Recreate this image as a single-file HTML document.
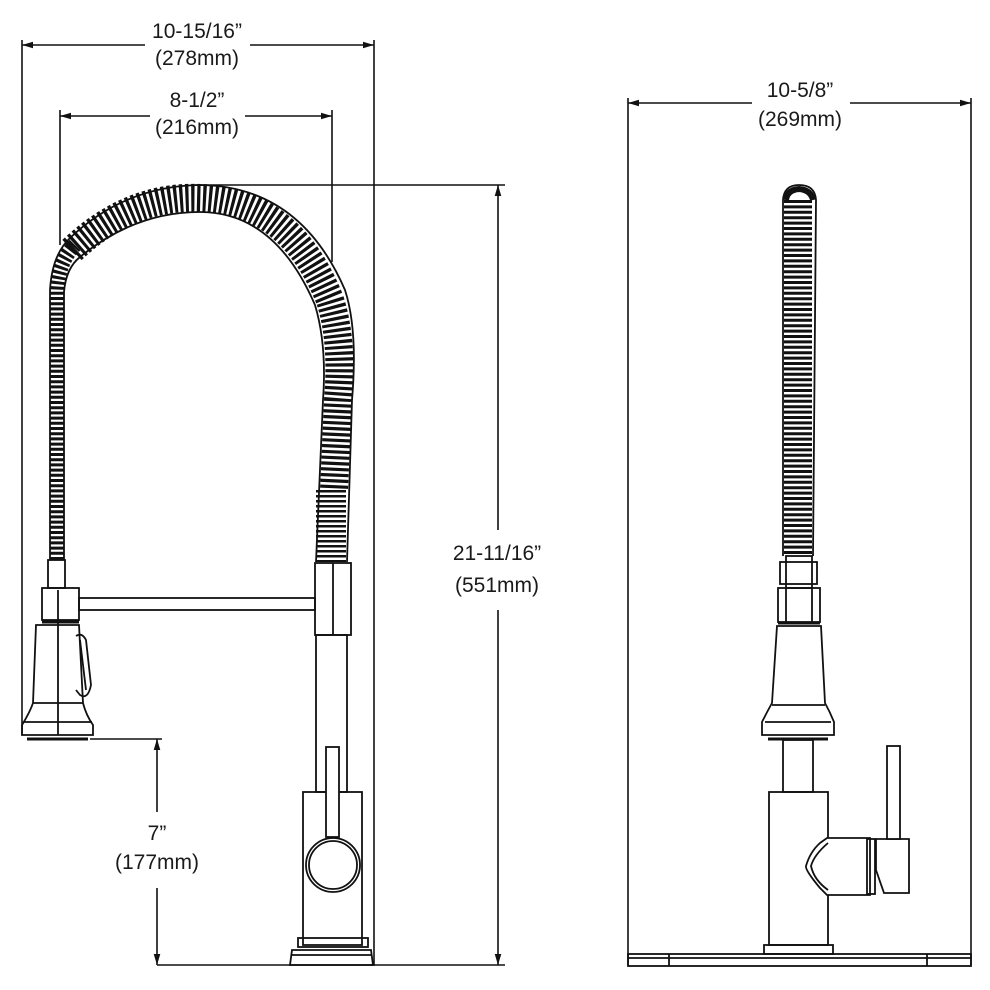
<!DOCTYPE html>
<html><head><style>
html,body{margin:0;padding:0;background:#fff;}
svg{display:block;}
text{font-family:"Liberation Sans",Arial,sans-serif;font-size:21px;fill:#1a1a1a;text-anchor:middle;}
</style></head><body>
<svg width="990" height="990" viewBox="0 0 990 990" xmlns="http://www.w3.org/2000/svg">
<defs>
<marker id="a" viewBox="0 0 10 10" refX="10" refY="5" markerWidth="7" markerHeight="7" orient="auto-start-reverse"><path d="M0,2 L10,5 L0,8 z" fill="#111"/></marker>
</defs>
<g stroke="#111" stroke-width="1.6" fill="none">
<line x1="22" y1="40" x2="22" y2="735"/>
<line x1="374" y1="40" x2="374" y2="965"/>
<line x1="22" y1="45" x2="145" y2="45" marker-start="url(#a)"/>
<line x1="250" y1="45" x2="374" y2="45" marker-end="url(#a)"/>
<line x1="60" y1="110" x2="60" y2="245"/>
<line x1="332" y1="110" x2="332" y2="262"/>
<line x1="60" y1="116" x2="150" y2="116" marker-start="url(#a)"/>
<line x1="245" y1="116" x2="332" y2="116" marker-end="url(#a)"/>
<line x1="195" y1="185" x2="505" y2="185"/>
<line x1="498" y1="185" x2="498" y2="530" marker-start="url(#a)"/>
<line x1="498" y1="610" x2="498" y2="965" marker-end="url(#a)"/>
<line x1="370" y1="965" x2="505" y2="965"/>
<line x1="90" y1="739" x2="162" y2="739"/>
<line x1="157" y1="739" x2="157" y2="812" marker-start="url(#a)"/>
<line x1="157" y1="888" x2="157" y2="965" marker-end="url(#a)"/>
<line x1="157" y1="965" x2="375" y2="965"/>
<line x1="628" y1="98" x2="628" y2="965"/>
<line x1="971" y1="98" x2="971" y2="965"/>
<line x1="628" y1="103" x2="752" y2="103" marker-start="url(#a)"/>
<line x1="850" y1="103" x2="971" y2="103" marker-end="url(#a)"/>
</g>
<g>
<text x="197" y="38">10-15/16”</text><text x="197" y="65">(278mm)</text>
<text x="197" y="107">8-1/2”</text><text x="197" y="134">(216mm)</text>
<text x="497" y="560">21-11/16”</text><text x="497" y="592">(551mm)</text>
<text x="157" y="840">7”</text><text x="157" y="869">(177mm)</text>
<text x="800" y="97">10-5/8”</text><text x="800" y="126">(269mm)</text>
</g>
<g fill="none" stroke="#111">
<path d="M57,560 L57,290 Q58,262 75,245" stroke-width="15" stroke-dasharray="3 2.2"/>
<path d="M72,250 Q130,195 200,198 Q290,200 330,300 Q343,340 338,400 L334,490" stroke-width="28" stroke-dasharray="3.2 2.6"/>
<path d="M331,490 L331,562" stroke-width="30" stroke-dasharray="2.5 2.5"/>
</g>
<g fill="none" stroke="#111" stroke-width="1.8">
<path d="M50,560 L50,290 Q52,255 70,238 Q125,186 200,185 Q300,186 345,290 Q358,330 352,400 L347,562"/>
<path d="M64,560 L64,292 Q66,268 80,257 Q135,212 200,212 Q275,212 315,305 Q327,345 323,400 L316,562"/>
<rect x="48" y="560" width="17" height="28" fill="#fff"/>
<rect x="42" y="588" width="37" height="32"/>
<line x1="42" y1="622" x2="79" y2="622" stroke-width="3"/>
<path d="M36,625 L79,625 L83,703 Q86,715 93,725 L93,735 L22,735 L22,725 Q30,712 33,703 Z"/>
<line x1="33" y1="703" x2="83" y2="703"/>
<line x1="24" y1="722" x2="92" y2="722"/>
<line x1="27" y1="739" x2="88" y2="739" stroke-width="3"/>
<line x1="58" y1="590" x2="58" y2="735"/>
<path d="M76,636 Q82,632 86,640 L91,685 Q88,700 80,695 L76,690"/>
<path d="M80,640 L86,690"/>
<rect x="79" y="598" width="236" height="12"/>
<rect x="315" y="563" width="36" height="72"/>
<line x1="333" y1="563" x2="333" y2="635"/>
<rect x="316" y="635" width="31" height="157"/>
<rect x="303" y="792" width="59" height="153"/>
<circle cx="333" cy="865" r="27" fill="#fff"/>
<circle cx="333" cy="865" r="24"/>
<rect x="326" y="747" width="13" height="90" fill="#fff"/>
<rect x="298" y="938" width="70" height="9"/>
<path d="M290,965 L292,950 L371,950 L373,965 Z"/>
<line x1="292" y1="955" x2="371" y2="955"/>
</g>
<g fill="none" stroke="#111">
<path d="M798,200 L798,556" stroke-width="28" stroke-dasharray="3 2.4"/>
</g>
<g fill="none" stroke="#111" stroke-width="1.8">
<path d="M783,556 L783,200 Q784,185 799,185 Q815,185 816,200 L813,556"/>
<path d="M786,200 Q787,190 799,189 Q811,190 813,200" stroke-width="6"/>
<rect x="786" y="556" width="26" height="32"/>
<rect x="780" y="562" width="37" height="22"/>
<rect x="778" y="588" width="42" height="34"/>
<line x1="786" y1="588" x2="786" y2="622"/><line x1="812" y1="588" x2="812" y2="622"/>
<line x1="778" y1="623" x2="820" y2="623" stroke-width="3"/>
<path d="M777,626 L821,626 L825,703 Q830,712 834,722 L834,735 L762,735 L762,722 Q767,712 772,703 Z"/>
<line x1="772" y1="705" x2="825" y2="705"/>
<line x1="765" y1="722" x2="831" y2="722"/>
<line x1="768" y1="739" x2="828" y2="739" stroke-width="3"/>
<rect x="783" y="740" width="30" height="52"/>
<rect x="769" y="792" width="59" height="153"/>
<path d="M827,838 L870,838 L870,895 L827,895 L820,888 Q805,870 806,866 Q810,852 820,843 Z" fill="#fff"/>
<path d="M828,843 Q814,855 811,866 Q814,880 828,890"/>
<rect x="867" y="839" width="8" height="55"/>
<path d="M876,839 L909,839 L909,893 L884,893 L876,870 Z"/>
<rect x="887" y="746" width="13" height="93" fill="#fff"/>
<rect x="764" y="945" width="69" height="9"/>
<rect x="628" y="954" width="343" height="12"/>
<line x1="628" y1="958" x2="971" y2="958"/>
<line x1="669" y1="954" x2="669" y2="966"/>
<line x1="927" y1="954" x2="927" y2="966"/>
</g>
</svg>
</body></html>
